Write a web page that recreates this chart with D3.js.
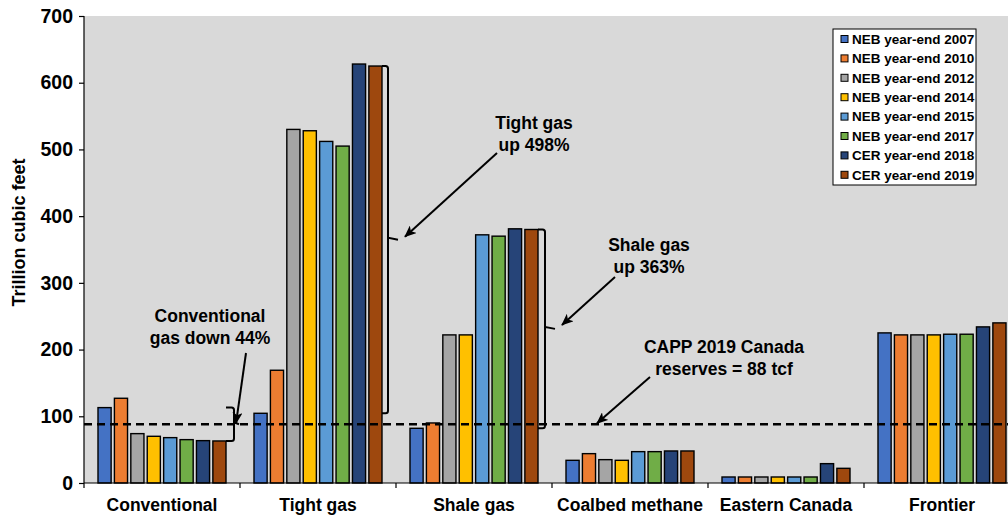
<!DOCTYPE html>
<html>
<head>
<meta charset="utf-8">
<script src="https://cdn.jsdelivr.net/npm/d3@7"></script>
<style>
  html, body { margin: 0; padding: 0; background: #fff; }
  svg { display: block; }
  text { font-family: "Liberation Sans", Arial, sans-serif; font-weight: bold; fill: #000; }
</style>
</head>
<body>
<svg id="chart" width="1008" height="516"></svg>
<script>
// Canadian marketable natural gas resource estimates by type (tcf)
const categories = ["Conventional", "Tight gas", "Shale gas", "Coalbed methane", "Eastern Canada", "Frontier"];
const series = ["NEB year-end 2007", "NEB year-end 2010", "NEB year-end 2012", "NEB year-end 2014",
                "NEB year-end 2015", "NEB year-end 2017", "CER year-end 2018", "CER year-end 2019"];
const colors = ["#4472C4", "#ED7D31", "#A5A5A5", "#FFC000", "#5B9BD5", "#70AD47", "#264478", "#9E480E"];

const conventional = [113, 127, 74, 70, 68, 65, 63.5, 63];
const tightGas     = [104.5, 169, 530, 528, 512, 505, 628, 625];
const shaleGas     = [82, 90, 222, 222, 372, 370, 381, 380];
const coalbed      = [34, 44, 35, 34, 47, 47, 48, 48];
const eastern      = [9, 9, 9, 9, 9, 9, 29, 22];
const frontier     = [225, 222, 222, 222, 223, 223, 234, 240];
const values = [conventional, tightGas, shaleGas, coalbed, eastern, frontier];

const yTicks = [0, 100, 200, 300, 400, 500, 600, 700];
const cappReserves = 88;

const svg = d3.select("#chart");
const mLeft = 84, mTop = 16, mBottom = 483, plotRight = 1020, visRight = 1008;

const x0 = d3.scaleBand().domain(categories).range([mLeft, plotRight]).paddingInner(0).paddingOuter(0);
const x1 = d3.scaleBand().domain(series).range([14, x0.bandwidth() - 14]).paddingInner(0.2).paddingOuter(0);
const y = d3.scaleLinear().domain([0, 700]).range([mBottom, mTop]);

// plot background
svg.append("rect").attr("x", mLeft).attr("y", mTop)
  .attr("width", visRight - mLeft).attr("height", mBottom - mTop).attr("fill", "#D9D9D9");

// bars
const groups = svg.append("g").selectAll("g").data(categories).join("g")
  .attr("transform", c => `translate(${x0(c)},0)`);
groups.selectAll("rect")
  .data((c, i) => series.map((s, j) => ({ s, j, v: values[i][j] })))
  .join("rect")
  .attr("x", d => x1(d.s))
  .attr("y", d => y(d.v))
  .attr("width", x1.bandwidth())
  .attr("height", d => y(0) - y(d.v))
  .attr("fill", d => colors[d.j])
  .attr("stroke", "#000").attr("stroke-width", 1.4);

// y axis
const yAxis = svg.append("g").attr("transform", `translate(${mLeft},0)`)
  .call(d3.axisLeft(y).tickValues(yTicks).tickSize(5).tickPadding(6));
yAxis.select(".domain").attr("stroke", "#000").attr("stroke-width", 1.2).attr("d", `M0,${mTop}V${mBottom}`);
yAxis.selectAll(".tick line").attr("stroke", "#000").attr("stroke-width", 1.2);
yAxis.selectAll(".tick text").style("font-size", "19.5px").style("font-family", "Liberation Sans, Arial, sans-serif")
  .style("font-weight", "bold").attr("fill", "#000");

// x axis with ticks at category boundaries
svg.append("line").attr("x1", mLeft).attr("x2", visRight).attr("y1", mBottom).attr("y2", mBottom)
  .attr("stroke", "#000").attr("stroke-width", 1.2);
svg.append("g").selectAll("line").data(categories).join("line")
  .attr("x1", c => x0(c)).attr("x2", c => x0(c))
  .attr("y1", mBottom).attr("y2", mBottom + 5)
  .attr("stroke", "#000").attr("stroke-width", 1.2);
svg.append("g").selectAll("text").data(categories).join("text")
  .attr("x", c => x0(c) + x0.bandwidth() / 2).attr("y", 511)
  .attr("text-anchor", "middle").style("font-size", "17.5px").text(c => c);

// y axis title
svg.append("text").attr("transform", `translate(25,${(mTop + mBottom) / 2 - 17}) rotate(-90)`)
  .attr("text-anchor", "middle").style("font-size", "18px").text("Trillion cubic feet");

// CAPP reserves reference line
svg.append("line").attr("x1", mLeft).attr("x2", visRight)
  .attr("y1", y(cappReserves)).attr("y2", y(cappReserves))
  .attr("stroke", "#000").attr("stroke-width", 2.5).attr("stroke-dasharray", "8,5");

// arrowhead
svg.append("defs").append("marker").attr("id", "arrow")
  .attr("viewBox", "0 0 12 10").attr("refX", 11).attr("refY", 5)
  .attr("markerWidth", 12).attr("markerHeight", 10).attr("markerUnits", "userSpaceOnUse")
  .attr("orient", "auto")
  .append("path").attr("d", "M0,0 L12,5 L0,10 L3,5 Z").attr("fill", "#000");

// change brackets from first to last estimate
function bracket(ci, gap, nub) {
  const c = categories[ci];
  const vFirst = values[ci][0], vLast = values[ci][series.length - 1];
  const xEdge = x0(c) + x1(series[series.length - 1]) + x1.bandwidth();
  const xb = xEdge + gap;
  const yA = y(Math.max(vFirst, vLast)), yB = y(Math.min(vFirst, vLast));
  const ym = (yA + yB) / 2;
  const r = 2.5;
  const p = `M${xEdge},${yA}H${xb - r}Q${xb},${yA} ${xb},${yA + r}V${ym - 2}L${xb + nub},${ym}` +
            `M${xb},${ym + 2}V${yB - r}Q${xb},${yB} ${xb - r},${yB}H${xEdge}` +
            `M${xb},${ym - 2}V${ym + 2}`;
  svg.append("path").attr("d", p).attr("fill", "none").attr("stroke", "#000").attr("stroke-width", 2);
  return { x: xb + nub, y: ym };
}
const bConv = bracket(0, 8, 5);
const bTight = bracket(1, 6, 10);
const bShale = bracket(2, 7, 10);

function arrow(x1a, y1a, x2a, y2a) {
  svg.append("line").attr("x1", x1a).attr("y1", y1a).attr("x2", x2a).attr("y2", y2a)
    .attr("stroke", "#000").attr("stroke-width", 2).attr("marker-end", "url(#arrow)");
}
function note(cx, cy, lines) {
  const t = svg.append("text").attr("text-anchor", "middle").style("font-size", "17.5px");
  lines.forEach((l, i) => t.append("tspan").attr("x", cx).attr("y", cy + i * 22).text(l));
}

note(210, 322, ["Conventional", "gas down 44%"]);
arrow(246, 353, bConv.x - 3, bConv.y - 1);

note(534, 129, ["Tight gas", "up 498%"]);
arrow(497, 153, bTight.x + 7, bTight.y - 3);

note(649, 251, ["Shale gas", "up 363%"]);
arrow(615, 277, bShale.x + 7, bShale.y - 4);

note(724, 353, ["CAPP 2019 Canada", "reserves = 88 tcf"]);
arrow(650, 377, 597, y(cappReserves) - 1);

// legend
const lg = svg.append("g").attr("transform", "translate(833,29)");
lg.append("rect").attr("width", 143).attr("height", 156).attr("fill", "#fff")
  .attr("stroke", "#000").attr("stroke-width", 1);
const items = lg.selectAll("g").data(series).join("g")
  .attr("transform", (d, i) => `translate(8,${10 + i * 19.4})`);
items.append("rect").attr("x", 0).attr("y", -3.5).attr("width", 7).attr("height", 7)
  .attr("fill", (d, i) => colors[i]).attr("stroke", "#000").attr("stroke-width", 1);
items.append("text").attr("x", 11).attr("y", 4.8).style("font-size", "13.5px").text(d => d);
</script>
</body>
</html>
